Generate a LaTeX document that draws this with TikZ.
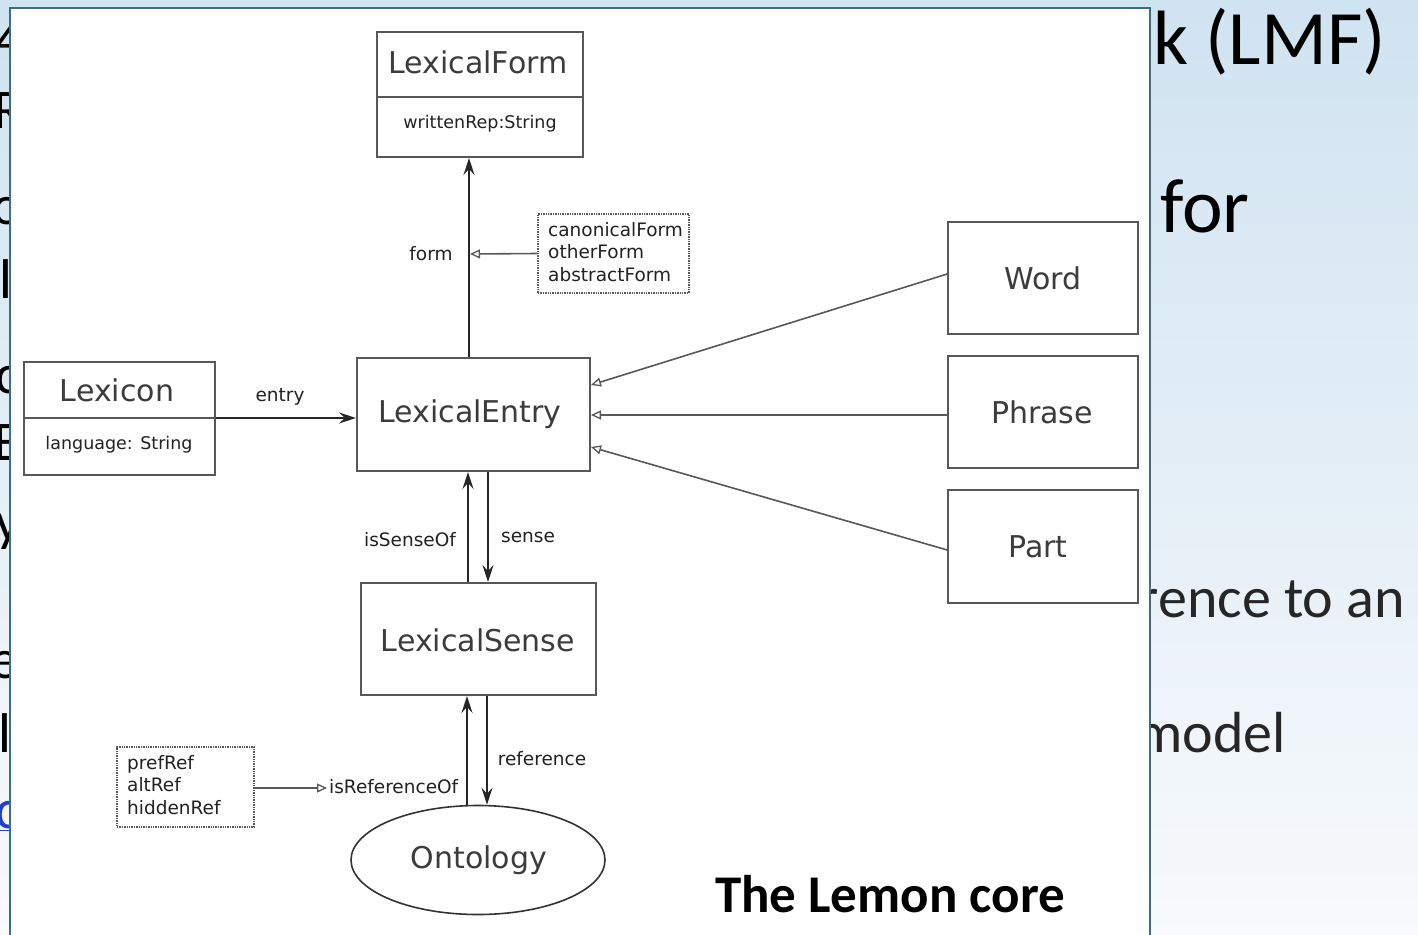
\documentclass[tikz,border=0pt]{standalone}
\usepackage{fontspec}
\setmainfont{DejaVu Sans}
\newfontfamily\slidefont{Carlito}
\usetikzlibrary{arrows.meta,shapes.geometric}
\definecolor{skytop}{HTML}{D0E3F1}
\definecolor{skymid}{HTML}{E9F2F9}
\definecolor{skybot}{HTML}{F8FAFC}
\definecolor{panelrim}{HTML}{3E6E7E}
\definecolor{umlline}{HTML}{585858}
\definecolor{umltext}{HTML}{3C3C3C}
\definecolor{labeltext}{HTML}{222222}
\definecolor{linkblue}{HTML}{1F3FD0}
\newcommand\fsz[2]{\fontsize{#1}{#2}\selectfont}

\begin{document}
\begin{tikzpicture}[x=1pt,y=-1pt,
  slidetext/.style={font=\slidefont\fsz{77}{77}, text=black, inner sep=0pt},
  slidesmall/.style={font=\slidefont\fsz{58}{58}, text=black!85, inner sep=0pt},
  edgetext/.style={font=\slidefont\fsz{56}{56}, text=black, inner sep=0pt, anchor=base east},
  classbox/.style={draw=umlline, line width=2pt, fill=white, rectangle, inner sep=0pt},
  notebox/.style={draw=umlline, densely dotted, line width=1.4pt, fill=white, inner sep=0pt},
  classname/.style={font=\fsz{30}{30}, text=umltext, inner sep=0pt},
  attrtext/.style={font=\fsz{17.5}{17.5}, text=labeltext, inner sep=0pt},
  notetext/.style={font=\fsz{18.5}{22.5}, text=labeltext, inner sep=0pt, align=left, anchor=north west},
  linklabel/.style={font=\fsz{18.5}{18.5}, text=labeltext, inner sep=0pt},
  assoc/.style={draw=black!85, line width=1.5pt, -{Stealth[length=17pt,width=11pt,inset=6pt]}},
  general/.style={draw=umlline, line width=1.6pt, -{Triangle[open,length=10pt,width=9pt,line width=1.3pt]}},
]
\useasboundingbox (0,0) rectangle (1418,934);

% slide background
\shade[top color=skytop, middle color=skymid, bottom color=skybot] (0,0) rectangle (1418,934);

% slide text around the inserted figure
\node[slidetext, anchor=base west] (title) at (1153,64) {k (LMF)};
\node[slidetext, anchor=base west] (forword) at (1160,232) {for};
\node[slidesmall, anchor=base east] (refline) at (1405,617) {rence to an};
\node[slidesmall, anchor=base east] (modelline) at (1286,752) {model};
\node[edgetext] (lf1) at (24,58) {4};
\node[edgetext] (lf2) at (24,128) {R};
\node[edgetext] (lf3) at (22,224) {o};
\node[edgetext] (lf4) at (13,298) {l};
\node[edgetext] (lf5) at (19,393) {c};
\node[edgetext] (lf6) at (21,460) {E};
\node[edgetext] (lf7) at (21,540) {y};
\node[edgetext] (lf8) at (19,678) {e};
\node[edgetext] (lf9) at (12,752) {l};
\node[edgetext, text=linkblue] (lf10) at (19,828) {\underline{c}};

% white panel holding the figure
\draw[panelrim, line width=2pt, fill=white] (10,8) rectangle (1150,945);

% classes
\node[classbox, minimum width=206pt, minimum height=125pt] (lform) at (480,94.5) {};
\draw[umlline, line width=2pt] (lform.west |- 0,97) -- (lform.east |- 0,97);
\node[classname] (lformname) at (478,62) {LexicalForm};
\node[attrtext] (lformattr) at (480,124) {writtenRep:String};

\node[classbox, minimum width=191pt, minimum height=113pt, line width=1.6pt] (lexicon) at (119.5,418.5) {};
\draw[umlline, line width=1.6pt] (lexicon.west |- 0,418) -- (lexicon.east |- 0,418);
\node[classname] (lexiconname) at (117,390) {Lexicon};
\node[attrtext] (lexiconattr) at (119,445) {language: String};

\node[classbox, minimum width=233pt, minimum height=113pt] (lentry) at (473.5,414.5) {};
\node[classname] (lentryname) at (470,414) {LexicalEntry};

\node[classbox, minimum width=190pt, minimum height=112pt, line width=1.6pt] (word) at (1043,278) {};
\node[classname] (wordname) at (1043,278) {Word};
\node[classbox, minimum width=190pt, minimum height=112pt, line width=1.6pt] (phrase) at (1043,412) {};
\node[classname] (phrasename) at (1042,412) {Phrase};
\node[classbox, minimum width=190pt, minimum height=113pt, line width=1.6pt] (part) at (1043,546.5) {};
\node[classname] (partname) at (1038,547) {Part};

\node[classbox, minimum width=235pt, minimum height=112pt] (lsense) at (478.5,639) {};
\node[classname] (lsensename) at (478,640) {LexicalSense};

\node[draw=black!80, line width=1.6pt, ellipse, minimum width=254pt, minimum height=109pt, inner sep=0pt] (onto) at (478,860) {};
\node[classname] (ontoname) at (479,860) {Ontology};

% notes listing sub-properties
\node[notebox, minimum width=151pt, minimum height=79pt] (formnote) at (613.5,253.5) {};
\node[notetext] (formnotetext) at (548,222) {canonicalForm\\otherForm\\abstractForm};
\node[notebox, minimum width=137pt, minimum height=80pt] (refnote) at (185.5,787) {};
\node[notetext] (refnotetext) at (127,755) {prefRef\\altRef\\hiddenRef};

% associations
\draw[assoc] ([xshift=-4.5pt]lentry.north) -- ([xshift=-11pt]lform.south);
\node[linklabel] (formlabel) at (431,254) {form};
\coordinate (formhit) at (470,254);
\draw[general] (formnote.west) -- (formhit);

\draw[assoc] (lexicon.east |- 0,418) -- (lentry.west |- 0,418);
\node[linklabel] (entrylabel) at (280,397) {entry};

\draw[general] ([yshift=4pt]word.west) -- ([yshift=29.5pt]lentry.east);
\draw[general] ([yshift=-3pt]phrase.west) -- ([yshift=-0.5pt]lentry.east);
\draw[general] ([yshift=-3.5pt]part.west) -- ([yshift=-32.5pt]lentry.east);

\draw[assoc] ([xshift=-10.5pt]lsense.north) -- ([xshift=-5.5pt]lentry.south);
\draw[assoc] ([xshift=14.5pt]lentry.south) -- ([xshift=9.5pt]lsense.north);
\node[linklabel] (isSenseOflabel) at (410,540) {isSenseOf};
\node[linklabel] (senselabel) at (528,537) {sense};

\draw[assoc] ([xshift=-11pt]onto.north) -- ([xshift=-11.5pt]lsense.south);
\draw[assoc] ([xshift=8.5pt]lsense.south) -- ([xshift=9pt]onto.north);
\node[linklabel] (referencelabel) at (542,759) {reference};
\coordinate (refhit) at (327,788);
\draw[general] (refnote.east |- refhit) -- (refhit);
\node[linklabel, anchor=west] (isRefOflabel) at (329,787) {isReferenceOf};

% caption
\node[font=\slidefont\bfseries\fsz{53}{53}, anchor=base west, inner sep=0pt] (caption) at (715,912) {The Lemon core};
\end{tikzpicture}
\end{document}
